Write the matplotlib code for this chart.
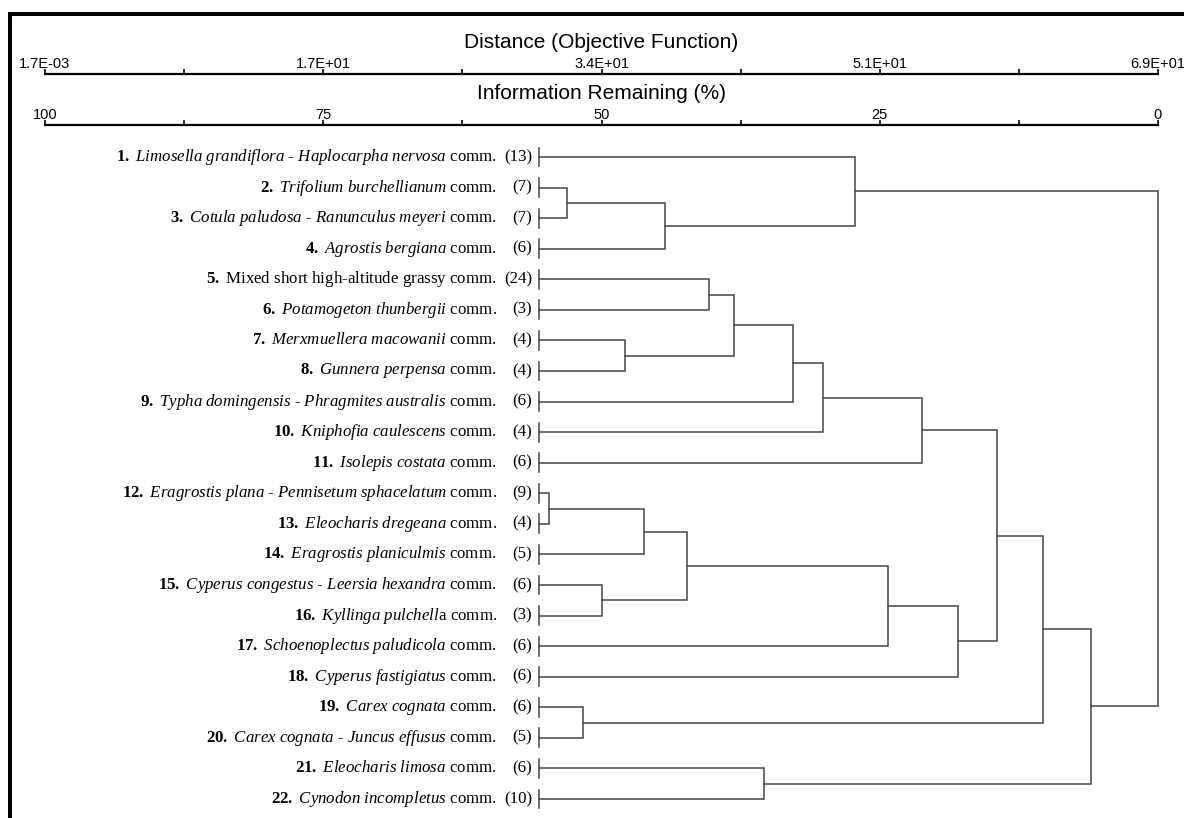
import matplotlib
matplotlib.use("Agg")
import matplotlib.pyplot as plt
from matplotlib.patches import Rectangle
import numpy as np

plt.rcParams['mathtext.fontset'] = 'custom'
plt.rcParams['mathtext.rm'] = 'Liberation Serif'
plt.rcParams['mathtext.it'] = 'Liberation Serif:italic'
plt.rcParams['mathtext.bf'] = 'Liberation Serif:bold'

# community labels (bold number, italic species names)
labels = [
    r"$\mathbf{1.}$ $\mathit{Limosella\ grandiflora}$ - $\mathit{Haplocarpha\ nervosa}$ comm.",
    r"$\mathbf{2.}$ $\mathit{Trifolium\ burchellianum}$ comm.",
    r"$\mathbf{3.}$ $\mathit{Cotula\ paludosa}$ - $\mathit{Ranunculus\ meyeri}$ comm.",
    r"$\mathbf{4.}$ $\mathit{Agrostis\ bergiana}$ comm.",
    r"$\mathbf{5.}$ Mixed short high-altitude grassy comm.",
    r"$\mathbf{6.}$ $\mathit{Potamogeton\ thunbergii}$ comm.",
    r"$\mathbf{7.}$ $\mathit{Merxmuellera\ macowanii}$ comm.",
    r"$\mathbf{8.}$ $\mathit{Gunnera\ perpensa}$ comm.",
    r"$\mathbf{9.}$ $\mathit{Typha\ domingensis}$ - $\mathit{Phragmites\ australis}$ comm.",
    r"$\mathbf{10.}$ $\mathit{Kniphofia\ caulescens}$ comm.",
    r"$\mathbf{11.}$ $\mathit{Isolepis\ costata}$ comm.",
    r"$\mathbf{12.}$ $\mathit{Eragrostis\ plana}$ - $\mathit{Pennisetum\ sphacelatum}$ comm.",
    r"$\mathbf{13.}$ $\mathit{Eleocharis\ dregeana}$ comm.",
    r"$\mathbf{14.}$ $\mathit{Eragrostis\ planiculmis}$ comm.",
    r"$\mathbf{15.}$ $\mathit{Cyperus\ congestus}$ - $\mathit{Leersia\ hexandra}$ comm.",
    r"$\mathbf{16.}$ $\mathit{Kyllinga\ pulchell}$a comm.",
    r"$\mathbf{17.}$ $\mathit{Schoenoplectus\ paludicola}$ comm.",
    r"$\mathbf{18.}$ $\mathit{Cyperus\ fastigiatus}$ comm.",
    r"$\mathbf{19.}$ $\mathit{Carex\ cognata}$ comm.",
    r"$\mathbf{20.}$ $\mathit{Carex\ cognata}$ - $\mathit{Juncus\ effusus}$ comm.",
    r"$\mathbf{21.}$ $\mathit{Eleocharis\ limosa}$ comm.",
    r"$\mathbf{22.}$ $\mathit{Cynodon\ incompletus}$ comm.",
]
n_releves = [13, 7, 7, 6, 24, 3, 4, 4, 6, 4, 6, 9, 4, 5, 6, 3, 6, 6, 6, 5, 6, 10]

# information remaining (%) at which the community clusters start
leaf_level = 55.6
# merges: (cluster a, cluster b, information remaining %)
# leaves are 0..21, each merge makes a new cluster 22, 23, ...
merges = [
    (11, 12, 54.7),  # 22
    (1, 2, 53.1),    # 23
    (18, 19, 51.7),  # 24
    (14, 15, 50.0),  # 25
    (6, 7, 47.9),    # 26
    (22, 13, 46.2),  # 27
    (23, 3, 44.3),   # 28
    (27, 25, 42.3),  # 29
    (4, 5, 40.3),    # 30
    (30, 26, 38.1),  # 31
    (20, 21, 35.4),  # 32
    (31, 8, 32.8),   # 33
    (33, 9, 30.1),   # 34
    (0, 28, 27.2),   # 35
    (29, 16, 24.3),  # 36
    (34, 10, 21.2),  # 37
    (36, 17, 18.0),  # 38
    (37, 38, 14.5),  # 39
    (39, 24, 10.3),  # 40
    (40, 32, 6.0),   # 41
    (35, 41, 0.0),   # 42
]

# top scales
dist_min, dist_max = 0.0017, 68.6
info_ticks = [100, 75, 50, 25, 0]

W, H = 1184, 818
fig = plt.figure(figsize=(W / 100, H / 100), dpi=100)


def px_axes(x0, y0, x1, y1):
    return fig.add_axes([x0 / W, 1 - y1 / H, (x1 - x0) / W, (y1 - y0) / H])


line_col = '#454545'

ax = px_axes(45, 141.7, 1158, 814.3)
n = len(labels)
ax.set_xlim(100, 0)
ax.set_ylim(n - 0.5, -0.5)
ax.axis('off')

pos = {}
for i in range(n):
    pos[i] = (leaf_level, i)
    ax.plot([leaf_level, leaf_level], [i - 0.31, i + 0.31], color=line_col, lw=1.1)
    ax.annotate(labels[i], xy=(leaf_level, i), xytext=(-30.5, 0), textcoords='offset points',
                ha='right', va='center', fontsize=12.2, family='Liberation Serif')
    ax.annotate('(%d)' % n_releves[i], xy=(leaf_level, i), xytext=(-5.2, 0),
                textcoords='offset points', ha='right', va='center', fontsize=12.2,
                family='Liberation Serif')

for k, (a, b, level) in enumerate(merges):
    xa, ya = pos[a]
    xb, yb = pos[b]
    ax.plot([xa, level, level, xb], [ya, ya, yb, yb], color=line_col, lw=1.1,
            solid_joinstyle='miter', clip_on=False)
    pos[n + k] = (level, (ya + yb) / 2)


def ruler(y, lo, hi, major, minor, fmt, title):
    r = px_axes(45, y, 1158, y + 0.01)
    r.set_xlim(lo, hi)
    for s in ['bottom', 'left', 'right']:
        r.spines[s].set_visible(False)
    r.spines['top'].set_linewidth(1.6)
    r.set_yticks([])
    r.xaxis.tick_top()
    r.set_xticks(major)
    r.set_xticks(minor, minor=True)
    r.set_xticklabels([fmt(v) for v in major])
    r.tick_params(axis='x', which='both', direction='out', length=3.6, width=1.2,
                  pad=-1.2, labelsize=10.5)
    r.xaxis.set_label_position('top')
    r.set_xlabel(title, fontsize=15, labelpad=6.5, family='Liberation Sans')
    for t in r.get_xticklabels():
        t.set_family('Liberation Sans')
    return r


d_major = np.linspace(dist_min, dist_max, 5)
d_minor = np.linspace(dist_min, dist_max, 9)
ruler(74, dist_min, dist_max, d_major, d_minor, lambda v: '%.1E' % v,
      'Distance (Objective Function)')
i_minor = np.linspace(100, 0, 9)
ruler(125, 100, 0, info_ticks, i_minor, lambda v: '%d' % v,
      'Information Remaining (%)')

# frame (only top and left edges fall inside the picture)
fig.add_artist(Rectangle((10 / W, -0.5), 2, 1.5 - 14 / H, transform=fig.transFigure,
                         fill=False, lw=2.9, edgecolor='black'))

fig.savefig('out.png', dpi=100)
